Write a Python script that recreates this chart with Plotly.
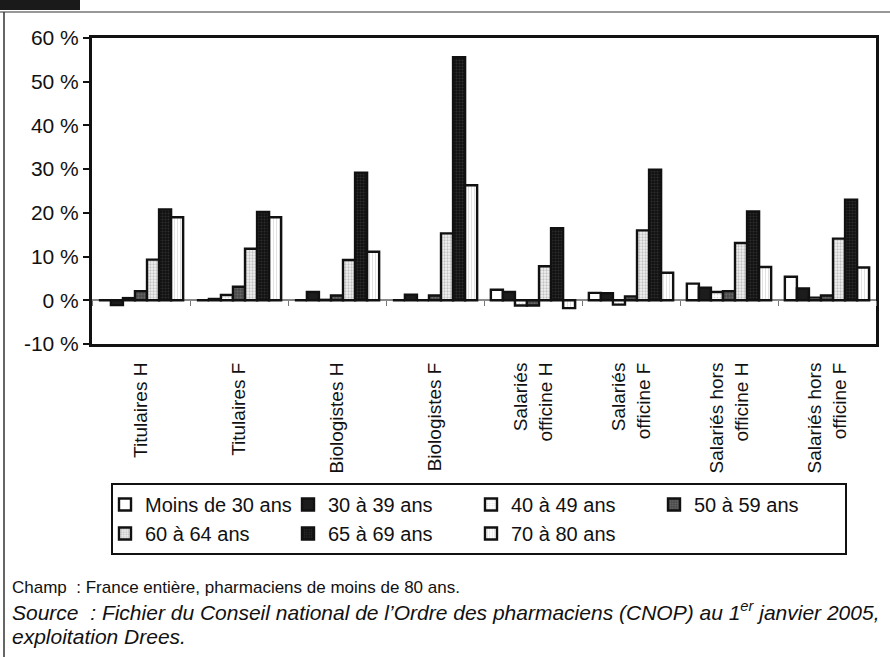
import plotly.graph_objects as go

categories = ["Titulaires H", "Titulaires F", "Biologistes H", "Biologistes F",
              "Salariés<br>officine H", "Salariés<br>officine F",
              "Salariés hors<br>officine H", "Salariés hors<br>officine F"]
series_names = ["Moins de 30 ans", "30 à 39 ans", "40 à 49 ans", "50 à 59 ans",
                "60 à 64 ans", "65 à 69 ans", "70 à 80 ans"]
moins_30 = [0.0, 0.0, 0.0, 0.0, 2.4, 1.7, 3.8, 5.4]
a30_39 = [-1.1, 0.3, 1.9, 1.3, 1.9, 1.6, 2.9, 2.7]
a40_49 = [0.5, 1.2, 0.1, 0.0, -1.2, -1.0, 1.9, 0.6]
a50_59 = [2.1, 3.1, 1.1, 1.1, -1.2, 0.9, 2.1, 1.1]
a60_64 = [9.3, 11.8, 9.2, 15.3, 7.8, 16.0, 13.1, 14.1]
a65_69 = [20.8, 20.2, 29.2, 55.6, 16.5, 29.9, 20.3, 23.0]
a70_80 = [19.0, 19.0, 11.1, 26.3, -1.8, 6.3, 7.6, 7.5]
y_ticks = [-10, 0, 10, 20, 30, 40, 50, 60]
y_tick_labels = ["-10 %", "0 %", "10 %", "20 %", "30 %", "40 %", "50 %", "60 %"]

series_values = [moins_30, a30_39, a40_49, a50_59, a60_64, a65_69, a70_80]

styles = [
    dict(color="white"),
    dict(color="#1c1c1c"),
    dict(color="white", pattern=dict(shape=".", fgcolor="#b0b0b0", bgcolor="white", size=3, solidity=0.25)),
    dict(color="#5a5a5a", pattern=dict(shape=".", fgcolor="#8a8a8a", bgcolor="#4a4a4a", size=3, solidity=0.35)),
    dict(color="#d0d0d0", pattern=dict(shape=".", fgcolor="#909090", bgcolor="#f2f2f2", size=3, solidity=0.45)),
    dict(color="#111111", pattern=dict(shape=".", fgcolor="#4a4a4a", bgcolor="#111111", size=3, solidity=0.35)),
    dict(color="white", pattern=dict(shape="|", fgcolor="#c0c0c0", bgcolor="white", size=3, solidity=0.3)),
]

FONT = "Liberation Sans, Arial, sans-serif"
W, H = 890, 657
L, R, T, B = 92, 14, 38, 313
PW, PH = W - L - R, H - T - B


def px_x(px):
    return (px - L) / PW


def px_y(py):
    return (H - B - py) / PH


fig = go.Figure()
for name, vals, st in zip(series_names, series_values, styles):
    marker = dict(line=dict(color="#111111", width=2.4))
    marker.update(st)
    fig.add_trace(go.Bar(x=categories, y=vals, name=name, marker=marker,
                         hoverinfo="skip"))

# dummy trace to carry the tick axis on the zero line
fig.add_trace(go.Scatter(x=categories, y=[None] * len(categories), xaxis="x2",
                         showlegend=False, hoverinfo="skip", mode="markers"))

fig.update_layout(
    width=W, height=H,
    margin=dict(l=L, r=R, t=T, b=B, pad=0),
    paper_bgcolor="white", plot_bgcolor="white",
    barmode="group", bargap=0.14, bargroupgap=0.0,
    font=dict(family=FONT, size=20, color="#111111"),
    xaxis=dict(type="category", categoryarray=categories, range=[-0.5, 7.5],
               showline=True, linecolor="#111111", linewidth=3, mirror=True,
               ticks="", tickangle=-90, ticklabelstandoff=8,
               tickfont=dict(size=19, family=FONT), showgrid=False),
    xaxis2=dict(type="category", categoryarray=categories, range=[-0.5, 7.5],
                overlaying="x", anchor="free", position=10 / 70,
                tickson="boundaries", ticks="outside", ticklen=5, tickwidth=1.2,
                tickcolor="#777777", showticklabels=False, showline=False,
                showgrid=False),
    yaxis=dict(range=[-10, 60], tickmode="array", tickvals=y_ticks,
               ticktext=y_tick_labels,
               showline=True, linecolor="#111111", linewidth=3, mirror=True,
               ticks="outside", ticklen=6, tickwidth=1.5, tickcolor="#111111",
               showgrid=False, zeroline=True, zerolinecolor="#8a8a8a",
               zerolinewidth=1.5, tickfont=dict(size=21, family=FONT)),
    legend=dict(orientation="h", x=px_x(111), y=px_y(483), xanchor="left",
                yanchor="top", bgcolor="white", bordercolor="#111111",
                borderwidth=2, font=dict(size=20, family=FONT),
                entrywidth=146, entrywidthmode="pixels", traceorder="normal",
                indentation=-8),
    showlegend=True,
)

# frame decorations
fig.add_shape(type="rect", xref="paper", yref="paper", x0=px_x(0), x1=px_x(80),
              y0=px_y(10), y1=px_y(0), fillcolor="#1a1a1a", line=dict(width=0))
fig.add_shape(type="line", xref="paper", yref="paper", x0=px_x(0), x1=px_x(890),
              y0=px_y(12), y1=px_y(12), line=dict(color="#333333", width=1.2))
fig.add_shape(type="line", xref="paper", yref="paper", x0=px_x(4), x1=px_x(4),
              y0=px_y(12), y1=px_y(657), line=dict(color="#333333", width=1.5))

notes = [
    ("Champ  : France entière, pharmaciens de moins de 80 ans.", 587, False, 17),
    ("Source  : Fichier du Conseil national de l’Ordre des pharmaciens (CNOP) au 1<sup>er</sup> janvier 2005,", 611, True, 21),
    ("exploitation Drees.", 636, True, 21),
]
for txt, py, it, sz in notes:
    fig.add_annotation(text=f"<i>{txt}</i>" if it else txt, xref="paper", yref="paper",
                       x=px_x(10), y=px_y(py), xanchor="left", yanchor="middle",
                       showarrow=False, align="left",
                       font=dict(size=sz, family=FONT, color="#111111"))

fig.write_html("out.html")
